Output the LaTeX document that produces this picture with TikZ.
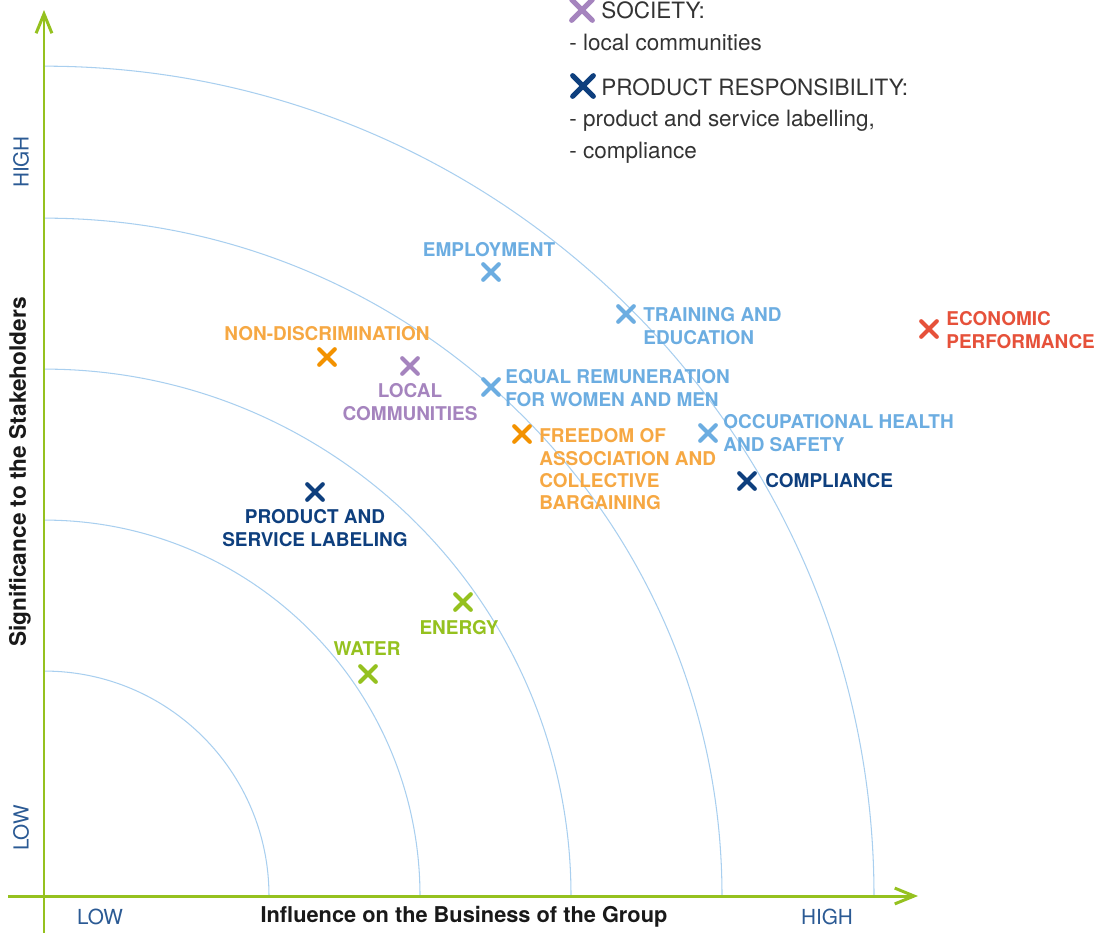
\documentclass[tikz,border=0pt]{standalone}
\usepackage{fontspec}
\setmainfont{TeX Gyre Heros}
\usetikzlibrary{arrows.meta}
\definecolor{lblue}{HTML}{6CADE1}
\definecolor{orangeM}{HTML}{F39200}
\definecolor{orangeT}{HTML}{F6A843}
\definecolor{purp}{HTML}{A584BE}
\definecolor{dblue}{HTML}{0E3F7E}
\definecolor{redc}{HTML}{E6513A}
\definecolor{greenc}{HTML}{95C11F}
\definecolor{arcc}{HTML}{A9CFEF}
\definecolor{axblue}{HTML}{2B5A94}
\definecolor{legray}{HTML}{333333}
\tikzset{
  mk/.style={shape=rectangle, minimum size=0.3cm, inner sep=0pt},
  lmk/.style={shape=rectangle, minimum size=0.4cm, inner sep=0pt},
  xline/.style={draw=#1, line width=2.3pt, line cap=round},
  lxline/.style={draw=#1, line width=2.9pt, line cap=round},
  lbl/.style={text=#1, inner sep=0pt, font=\fontsize{10.8}{12.6}\selectfont\bfseries},
  leg/.style={text=legray, inner sep=0pt, anchor=west, font=\fontsize{12.8}{15}\selectfont},
  axl/.style={text=axblue, inner sep=0pt, font=\fontsize{11.8}{14}\selectfont},
  axt/.style={text=black!90, inner sep=0pt, font=\fontsize{12.4}{14}\selectfont\bfseries},
  arcline/.style={draw=arcc, line width=0.6pt},
  axis/.style={draw=greenc, line width=1.7pt, -{Straight Barb[length=11pt,width=9pt,line width=1.7pt]}}
}
\begin{document}
\begin{tikzpicture}[x=0.02cm,y=-0.02cm]
\useasboundingbox (0,0) rectangle (1106,933);
% arcs
\foreach \r/\rr in {225/4.5cm,376/7.52cm,527/10.54cm,678/13.56cm,830/16.6cm}
  \draw[arcline] (44+\r,896) arc[start angle=0,end angle=90,radius=\rr];
% axes
\coordinate (yb) at (44,933);
\coordinate (yt) at (44,10);
\coordinate (xl) at (8,896);
\coordinate (xr) at (918,896);
\draw[axis] (yb) -- (yt);
\draw[axis] (xl) -- (xr);
% axis labels
\node[axl,rotate=90] (yhigh) at (21,162) {HIGH};
\node[axl,rotate=90] (ylow) at (21,828) {LOW};
\node[axl] (xlow) at (100,917) {LOW};
\node[axl] (xhigh) at (827,917) {HIGH};
\node[axt] (xtitle) at (464,917) {Influence on the Business of the Group};
\node[axt,rotate=90,font=\fontsize{12.9}{14}\selectfont\bfseries] (ytitle) at (20,472) {Significance to the Stakeholders};
% legend
\node[lmk] (lsoc) at (582,10) {};
\node[leg] (tsoc) at (601,10) {SOCIETY:};
\node[leg] (tsoc1) at (569,42) {- local communities};
\node[lmk] (lprod) at (583,86) {};
\node[leg] (tprod) at (601,87) {PRODUCT RESPONSIBILITY:};
\node[leg] (tprod1) at (569,121) {- product and service labelling,};
\node[leg] (tprod2) at (569,153) {- compliance};
\foreach \n/\c in {lsoc/purp,lprod/dblue}
  \draw[lxline=\c] (\n.north west) -- (\n.south east) (\n.north east) -- (\n.south west);
% markers
\node[mk] (employment) at (491,272) {};
\node[lbl=lblue,anchor=north] (temployment) at (489,242.5) {EMPLOYMENT};
\node[mk] (training) at (626,314) {};
\node[lbl=lblue,anchor=north west,align=left] (ttraining) at (643,307.5) {TRAINING AND\\EDUCATION};
\node[mk] (nondisc) at (327,357) {};
\node[lbl=orangeT,anchor=north] (tnondisc) at (327,326.5) {NON-DISCRIMINATION};
\node[mk] (local) at (410,366) {};
\node[lbl=purp,anchor=north,align=center] (tlocal) at (410,383.5) {LOCAL\\COMMUNITIES};
\node[mk] (equal) at (491,387) {};
\node[lbl=lblue,anchor=north west,align=left] (tequal) at (505,369.5) {EQUAL REMUNERATION\\FOR WOMEN AND MEN};
\node[mk] (freedom) at (522,434) {};
\node[lbl=orangeT,anchor=north west,align=left] (tfreedom) at (539,428.5) {FREEDOM OF\\ASSOCIATION AND\\COLLECTIVE\\BARGAINING};
\node[mk] (occup) at (708,433) {};
\node[lbl=lblue,anchor=north west,align=left] (toccup) at (723,414.5) {OCCUPATIONAL HEALTH\\AND SAFETY};
\node[mk] (compl) at (747,481) {};
\node[lbl=dblue,anchor=west] (tcompl) at (765,481) {COMPLIANCE};
\node[mk] (econ) at (929,329) {};
\node[lbl=redc,anchor=north west,align=left] (tecon) at (946,311.5) {ECONOMIC\\PERFORMANCE};
\node[mk] (prod) at (315,492) {};
\node[lbl=dblue,anchor=north,align=center] (tprodl) at (315,509.5) {PRODUCT AND\\SERVICE LABELING};
\node[mk] (energy) at (463,602) {};
\node[lbl=greenc,anchor=north] (tenergy) at (459,620.5) {ENERGY};
\node[mk] (water) at (368,674) {};
\node[lbl=greenc,anchor=north] (twater) at (367,641.5) {WATER};
\foreach \n/\c in {employment/lblue,training/lblue,nondisc/orangeM,local/purp,equal/lblue,freedom/orangeM,occup/lblue,compl/dblue,econ/redc,prod/dblue,energy/greenc,water/greenc}
  \draw[xline=\c] (\n.north west) -- (\n.south east) (\n.north east) -- (\n.south west);
\end{tikzpicture}
\end{document}
